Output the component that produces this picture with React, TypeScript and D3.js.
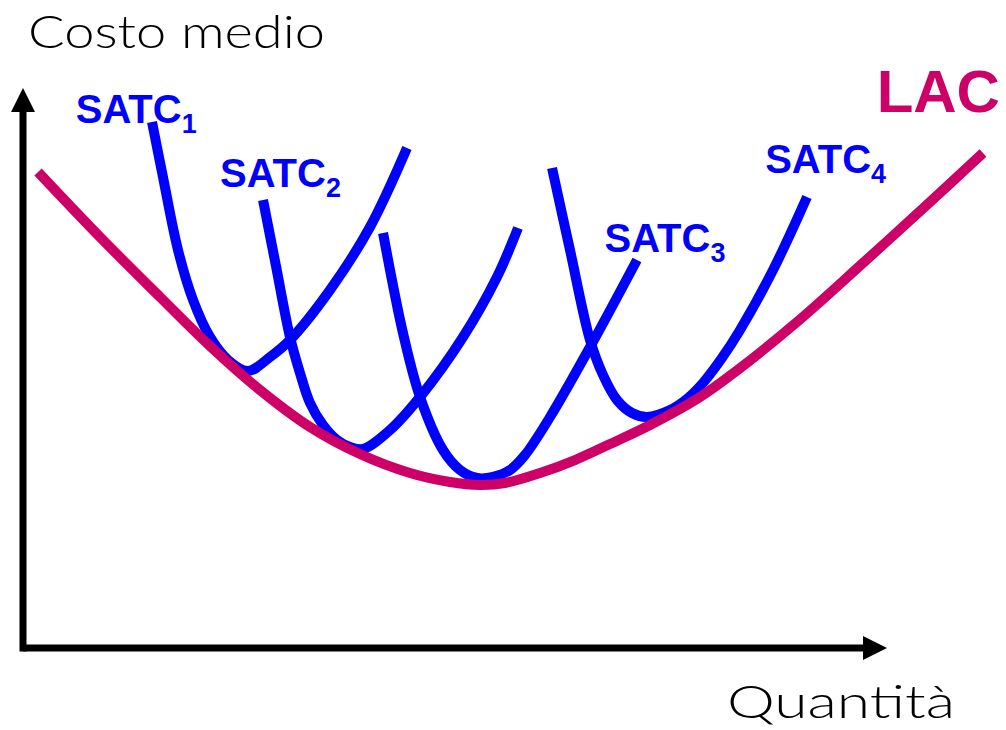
import React from "react";
import * as d3 from "d3";

const W = 1006;
const H = 730;

// Quantity (0-100) / average cost (0-100)
const lacQ = [1.74, 8.91, 15.86, 21.64, 27.43, 33.22, 39.0, 44.79, 49.42, 52.89, 55.79, 59.84, 63.89, 67.94, 72.57, 78.36, 82.41, 89.58, 97.22, 104.98, 111.11];
const lacC = [85.0, 73.39, 62.68, 53.93, 46.07, 39.46, 34.64, 31.25, 29.64, 29.11, 29.46, 31.25, 33.57, 36.43, 39.82, 44.82, 49.29, 58.21, 68.75, 79.64, 88.39];

const satc1Q = [14.93, 16.2, 17.94, 19.68, 21.64, 23.73, 26.04, 28.59, 30.9, 35.53, 40.16, 44.44];
const satc1C = [93.93, 84.11, 71.07, 62.14, 55.54, 51.43, 49.46, 51.96, 55.0, 63.93, 75.18, 89.29];

const satc2Q = [27.78, 29.28, 30.9, 32.06, 33.22, 34.72, 36.34, 37.85, 39.35, 42.48, 45.95, 50.93, 54.86, 57.29];
const satc2C = [80.0, 68.21, 55.54, 49.11, 43.75, 39.82, 37.14, 35.89, 35.54, 38.93, 44.82, 55.54, 66.25, 75.0];

const satc3Q = [41.67, 43.98, 45.95, 48.61, 50.58, 52.55, 54.4, 56.37, 58.1, 61.0, 65.63, 71.06];
const satc3C = [74.11, 56.25, 44.82, 35.36, 31.79, 30.36, 30.54, 31.79, 34.46, 41.25, 53.75, 69.29];

const satc4Q = [61.23, 63.31, 65.63, 67.13, 68.75, 70.49, 72.22, 74.88, 76.97, 78.7, 80.9, 82.99, 86.81, 90.74];
const satc4C = [85.71, 71.07, 55.0, 48.75, 44.29, 41.96, 41.25, 42.5, 44.64, 47.32, 51.79, 56.79, 67.5, 80.54];

const satcNames = ["1", "2", "3", "4"];
const satcLabelQ = [6.1, 22.8, 67.3, 85.9];
const satcLabelC = [93.75, 82.3, 70.7, 84.8];

const BLUE = "#0000FF";
const MAGENTA = "#CC0066";

const x = d3.scaleLinear().domain([0, 100]).range([23, 887]);
const y = d3.scaleLinear().domain([0, 100]).range([648, 88]);

const zip = (qs: number[], cs: number[]) => qs.map((q, i) => [q, cs[i]] as [number, number]);

const line = d3
  .line<[number, number]>()
  .x(d => x(d[0]))
  .y(d => y(d[1]))
  .curve(d3.curveCatmullRom.alpha(0.5));

const satcs = [
  zip(satc1Q, satc1C),
  zip(satc2Q, satc2C),
  zip(satc3Q, satc3C),
  zip(satc4Q, satc4C),
];

export default function App() {
  const x0 = x(0);
  const y0 = y(0);
  const xEnd = x(100);
  const yEnd = y(100);
  const head = 24;
  const half = 12;

  return (
    <svg width={W} height={H} style={{ position: "absolute", left: 0, top: 0, background: "#fff" }}>
      {/* axes */}
      <g fill="#000" stroke="none">
        <line x1={x0} y1={y0 + 3.5} x2={x0} y2={yEnd + head} stroke="#000" strokeWidth={7} />
        <polygon points={`${x0},${yEnd} ${x0 - half},${yEnd + head} ${x0 + half},${yEnd + head}`} />
        <line x1={x0} y1={y0} x2={xEnd - head} y2={y0} stroke="#000" strokeWidth={7} />
        <polygon points={`${xEnd},${y0} ${xEnd - head},${y0 - half} ${xEnd - head},${y0 + half}`} />
      </g>

      {/* short-run curves, then the long-run envelope on top */}
      {satcs.map((pts, i) => (
        <path key={i} d={line(pts) || ""} fill="none" stroke={BLUE} strokeWidth={10} />
      ))}
      <path d={line(zip(lacQ, lacC)) || ""} fill="none" stroke={MAGENTA} strokeWidth={10} />

      {/* labels */}
      {satcNames.map((n, i) => (
        <text
          key={n}
          x={x(satcLabelQ[i])}
          y={y(satcLabelC[i])}
          fill={BLUE}
          fontFamily="'Liberation Sans', Arial, sans-serif"
          fontWeight="bold"
          fontSize={40}
        >
          SATC
          <tspan dy={10} fontSize={27}>{n}</tspan>
        </text>
      ))}
      <text
        x={x(98.8)}
        y={y(95.7)}
        fill={MAGENTA}
        fontFamily="'Liberation Sans', Arial, sans-serif"
        fontWeight="bold"
        fontSize={60}
      >
        LAC
      </text>

      <text
        x={28}
        y={48}
        fontFamily="Lato, 'Open Sans', sans-serif"
        fontWeight={300}
        fontSize={46}
        textLength={297}
        lengthAdjust="spacingAndGlyphs"
        fill="#000"
      >
        Costo medio
      </text>
      <text
        x={727}
        y={718}
        fontFamily="Lato, 'Open Sans', sans-serif"
        fontWeight={300}
        fontSize={45}
        textLength={228}
        lengthAdjust="spacingAndGlyphs"
        fill="#000"
      >
        Quantità
      </text>
    </svg>
  );
}
